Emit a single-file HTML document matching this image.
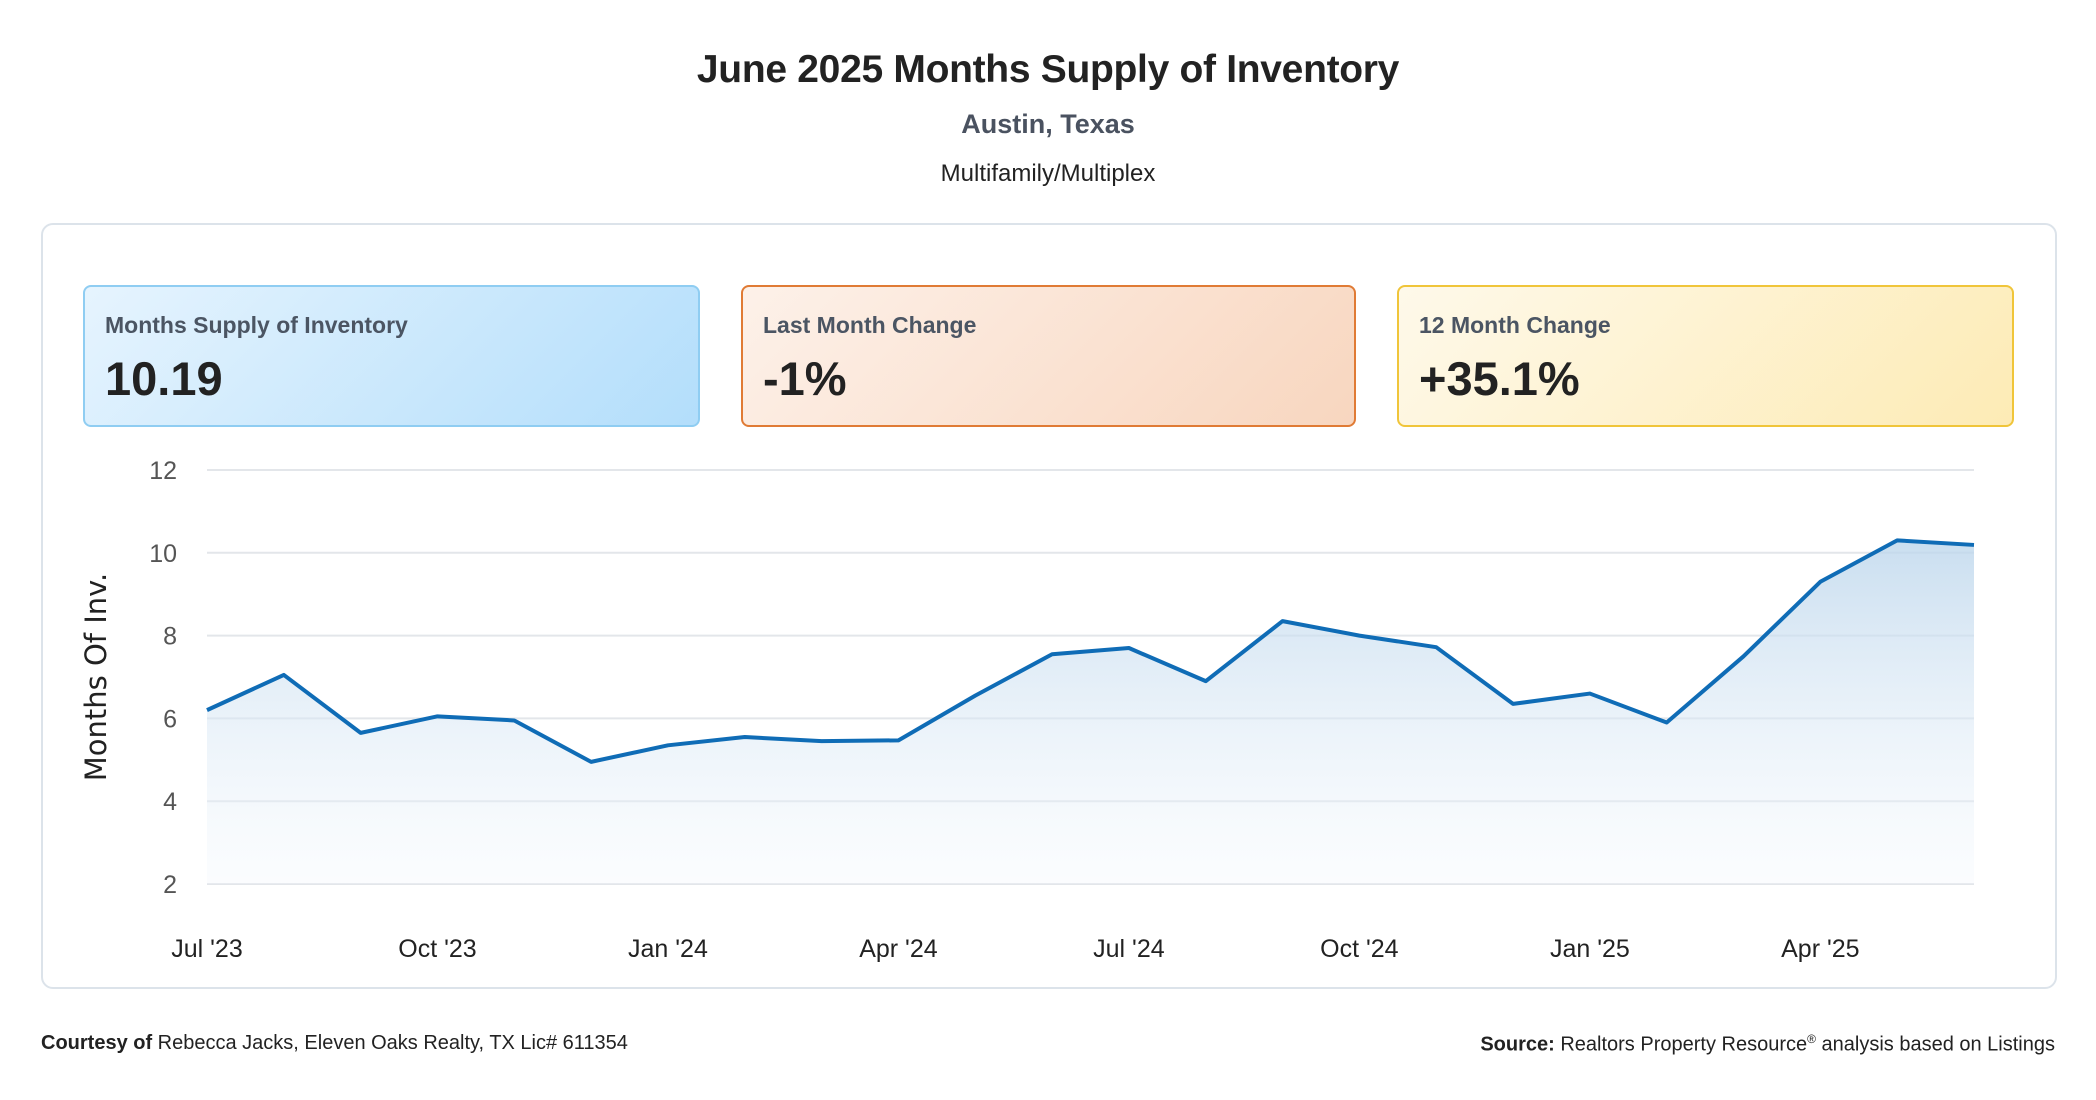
<!DOCTYPE html>
<html><head><meta charset="utf-8">
<style>
body{margin:0;width:2096px;height:1100px;background:#fff;font-family:"Liberation Sans",sans-serif;position:relative;overflow:hidden;color:#222}
.abs{position:absolute}
.title{left:0;width:2096px;text-align:center;top:48px;font-size:39px;font-weight:bold;color:#222;letter-spacing:-0.3px}
.sub{left:0;width:2096px;text-align:center;top:109px;font-size:27px;font-weight:bold;color:#4a5260}
.sub2{left:0;width:2096px;text-align:center;top:160px;font-size:24px;color:#222}
.box{left:41px;top:223px;width:2012px;height:762px;border:2px solid #dce3ea;border-radius:12px}
.card{top:285px;height:142px;border-radius:8px;border:2px solid;box-sizing:border-box;padding-left:20px}
.card .lbl{position:absolute;left:20px;top:25px;font-size:23px;font-weight:bold;color:#4b5563}
.card .val{position:absolute;left:20px;top:64px;font-size:47px;font-weight:bold;color:#222}
.foot{top:1032px;font-size:20px;color:#222}
</style></head><body>
<div class="abs title">June 2025 Months Supply of Inventory</div>
<div class="abs sub">Austin, Texas</div>
<div class="abs sub2">Multifamily/Multiplex</div>
<div class="abs box"></div>
<div class="abs card" style="left:83px;width:617px;border-color:#8fcdf2;background:linear-gradient(135deg,#e6f4fe,#b3defb)"><div class="lbl">Months Supply of Inventory</div><div class="val">10.19</div></div>
<div class="abs card" style="left:741px;width:615px;border-color:#e07b35;background:linear-gradient(135deg,#fdf1e9,#f8d6bf)"><div class="lbl">Last Month Change</div><div class="val">-1%</div></div>
<div class="abs card" style="left:1397px;width:617px;border-color:#f0c53a;background:linear-gradient(135deg,#fef9ea,#fdebb5)"><div class="lbl">12 Month Change</div><div class="val">+35.1%</div></div>
<svg class="abs" style="left:0;top:0" width="2096" height="1100" id="chart">
<defs><linearGradient id="fill" x1="0" y1="0" x2="0" y2="1"><stop offset="0" stop-color="#bcd6ec" stop-opacity="0.8"/><stop offset="1" stop-color="#f2f7fc" stop-opacity="0.3"/></linearGradient></defs>
</svg>
<div class="abs foot" style="left:41px"><b>Courtesy of</b> Rebecca Jacks, Eleven Oaks Realty, TX Lic# 611354</div>
<div class="abs foot" style="right:41px"><b>Source:</b> Realtors Property Resource<sup style="font-size:12px">®</sup> analysis based on Listings</div>
<script>
const months=["Jul '23","Aug '23","Sep '23","Oct '23","Nov '23","Dec '23","Jan '24","Feb '24","Mar '24","Apr '24","May '24","Jun '24","Jul '24","Aug '24","Sep '24","Oct '24","Nov '24","Dec '24","Jan '25","Feb '25","Mar '25","Apr '25","May '25","Jun '25"];
const values=[6.2,7.05,5.65,6.05,5.95,4.95,5.35,5.55,5.45,5.47,6.55,7.55,7.7,6.9,8.35,8.0,7.72,6.35,6.6,5.9,7.5,9.3,10.3,10.19];
const yTicks=[2,4,6,8,10,12];
const xTickLabels=["Jul '23","Oct '23","Jan '24","Apr '24","Jul '24","Oct '24","Jan '25","Apr '25"];
const NS="http://www.w3.org/2000/svg";
const svg=document.getElementById('chart');
const L=207,R=1974,T=470,B=884,ymin=2,ymax=12;
const x=i=>L+(R-L)*i/(months.length-1);
const y=v=>B-(B-T)*(v-ymin)/(ymax-ymin);
function mk(tag,attrs){const e=document.createElementNS(NS,tag);for(const k in attrs)e.setAttribute(k,attrs[k]);svg.appendChild(e);return e;}
yTicks.forEach(t=>{
 const g=mk('line',{x1:L,x2:R,y1:y(t),y2:y(t),stroke:'#e3e6ea','stroke-width':2});
 
 
 const tx=mk('text',{x:177,y:y(t)+9,'text-anchor':'end','font-size':25,fill:'#555','font-family':'Liberation Sans'});
 tx.textContent=t;
 
 
});
let pts=values.map((v,i)=>x(i)+','+y(v));
const area=mk('polygon',{points:L+','+B+' '+pts.join(' ')+' '+R+','+B,fill:'url(#fill)'});


const line=mk('polyline',{points:pts.join(' '),fill:'none',stroke:'#0f6cb6','stroke-width':4,'stroke-linejoin':'round'});


xTickLabels.forEach(lb=>{
 const i=months.indexOf(lb);
 const tx=mk('text',{x:x(i),y:957,'text-anchor':'middle','font-size':25,fill:'#222','font-family':'Liberation Sans'});
 tx.textContent=lb;
 
 
});
const yt=mk('text',{x:0,y:0,transform:'translate(106,677) rotate(-90)','text-anchor':'middle','font-size':29,fill:'#222','font-family':'DejaVu Sans'});
yt.textContent='Months Of Inv.';


</script>
</body></html>
